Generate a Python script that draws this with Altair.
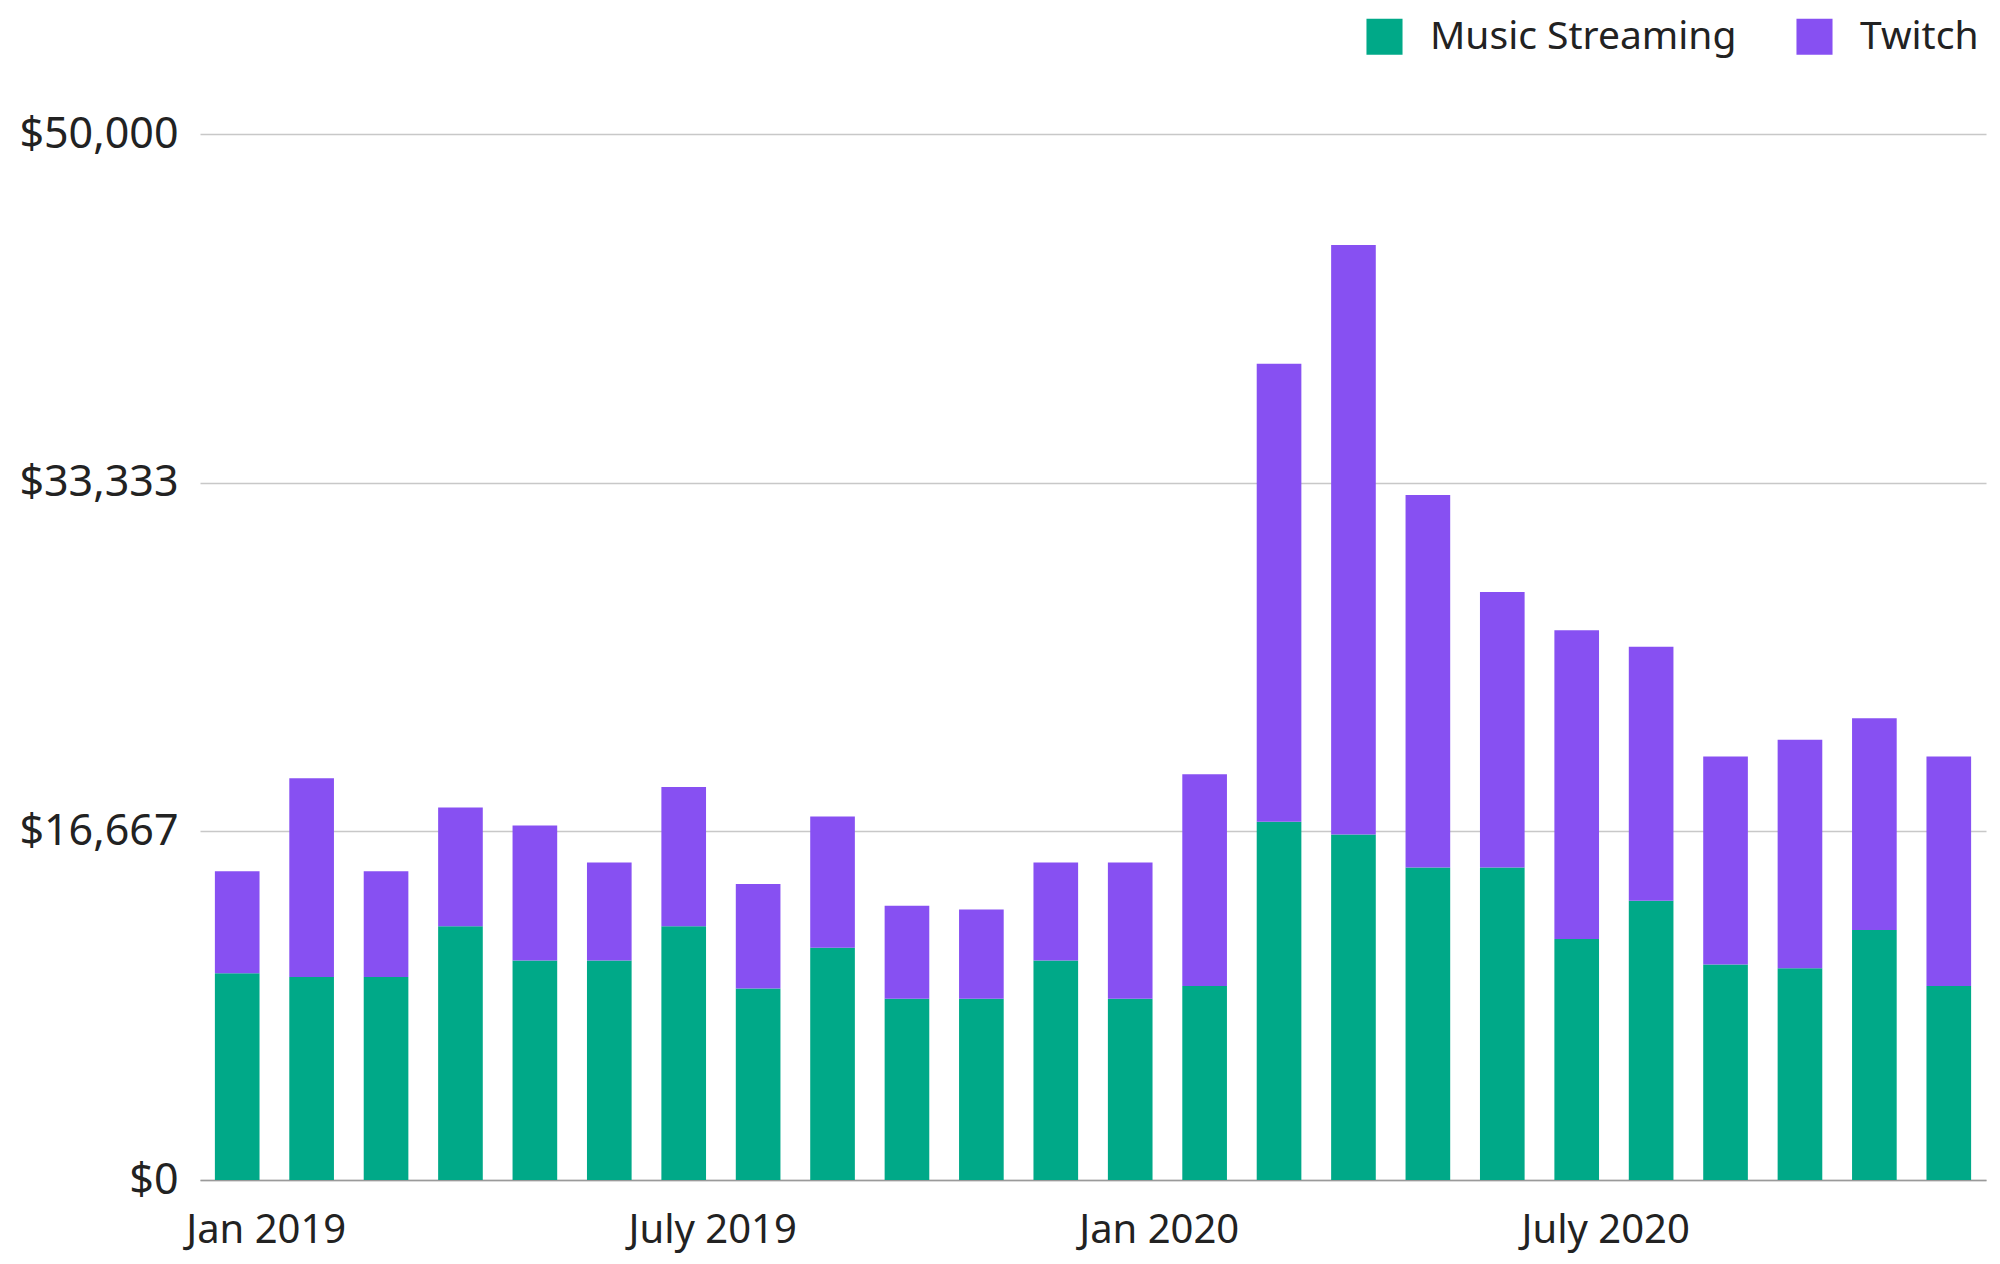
import altair as alt
import pandas as pd

months = ["Jan 2019", "Feb 2019", "Mar 2019", "Apr 2019", "May 2019", "Jun 2019",
          "July 2019", "Aug 2019", "Sep 2019", "Oct 2019", "Nov 2019", "Dec 2019",
          "Jan 2020", "Feb 2020", "Mar 2020", "Apr 2020", "May 2020", "Jun 2020",
          "July 2020", "Aug 2020", "Sep 2020", "Oct 2020", "Nov 2020", "Dec 2020"]

music = [9880, 9700, 9700, 12130, 10490, 10490, 12130, 9150, 11100, 8660, 8660, 10490,
         8660, 9270, 17130, 16520, 14940, 14940, 11520, 13350, 10300, 10120, 11950, 9270]

total = [14760, 19210, 14760, 17800, 16950, 15180, 18780, 14150, 17380, 13110, 12930, 15180,
         15180, 19390, 39020, 44700, 32740, 28110, 26280, 25490, 20240, 21040, 22070, 20240]

twitch = [t - m for t, m in zip(total, music)]

series = ["Music Streaming", "Twitch"]
colors = ["#00A988", "#8750F2"]
tick_months = ["Jan 2019", "July 2019", "Jan 2020", "July 2020"]
y_ticks = [0, 50000 / 3, 100000 / 3, 50000]

rows = []
for i, mth in enumerate(months):
    rows.append({"month": mth, "series": series[0], "value": music[i], "ord": 0})
    rows.append({"month": mth, "series": series[1], "value": twitch[i], "ord": 1})
df = pd.DataFrame(rows)

FONT = "Noto Sans"

chart = alt.Chart(df).mark_bar().encode(
    x=alt.X("month:N", sort=months,
            scale=alt.Scale(paddingInner=0.4, paddingOuter=0.2),
            axis=alt.Axis(title=None, values=tick_months, labelAngle=0, ticks=False,
                          domain=True, domainColor="#9a9a9a", domainWidth=1.5,
                          labelPadding=30, labelOffset=29, labelFontSize=40,
                          labelFont=FONT, labelColor="#222222", grid=False)),
    y=alt.Y("value:Q", stack="zero",
            scale=alt.Scale(domain=[0, 50000], nice=False),
            axis=alt.Axis(title=None, values=y_ticks, format="$,.0f", ticks=False,
                          domain=False, grid=True, gridColor="#c8c8c8", gridWidth=1.5,
                          labelPadding=22, labelFontSize=43, labelFont=FONT,
                          labelColor="#222222")),
    color=alt.Color("series:N", sort=series,
                    scale=alt.Scale(domain=series, range=colors),
                    legend=alt.Legend(title=None, orient="none", direction="horizontal",
                                      legendX=1165, legendY=-117,
                                      symbolType="square", symbolSize=1300,
                                      symbolStrokeWidth=0, labelFontSize=39,
                                      labelFont=FONT, labelColor="#222222",
                                      labelLimit=1000,
                                      labelOffset=26, columnPadding=58)),
    order=alt.Order("ord:Q", sort="ascending"),
).properties(
    width=1786,
    height=1046,
    autosize=alt.AutoSizeParams(type="none"),
    padding={"left": 192, "top": 126, "right": 6, "bottom": 76},
).configure_view(stroke=None)

chart.save("out.html", embed_options={"renderer": "svg", "actions": False})
